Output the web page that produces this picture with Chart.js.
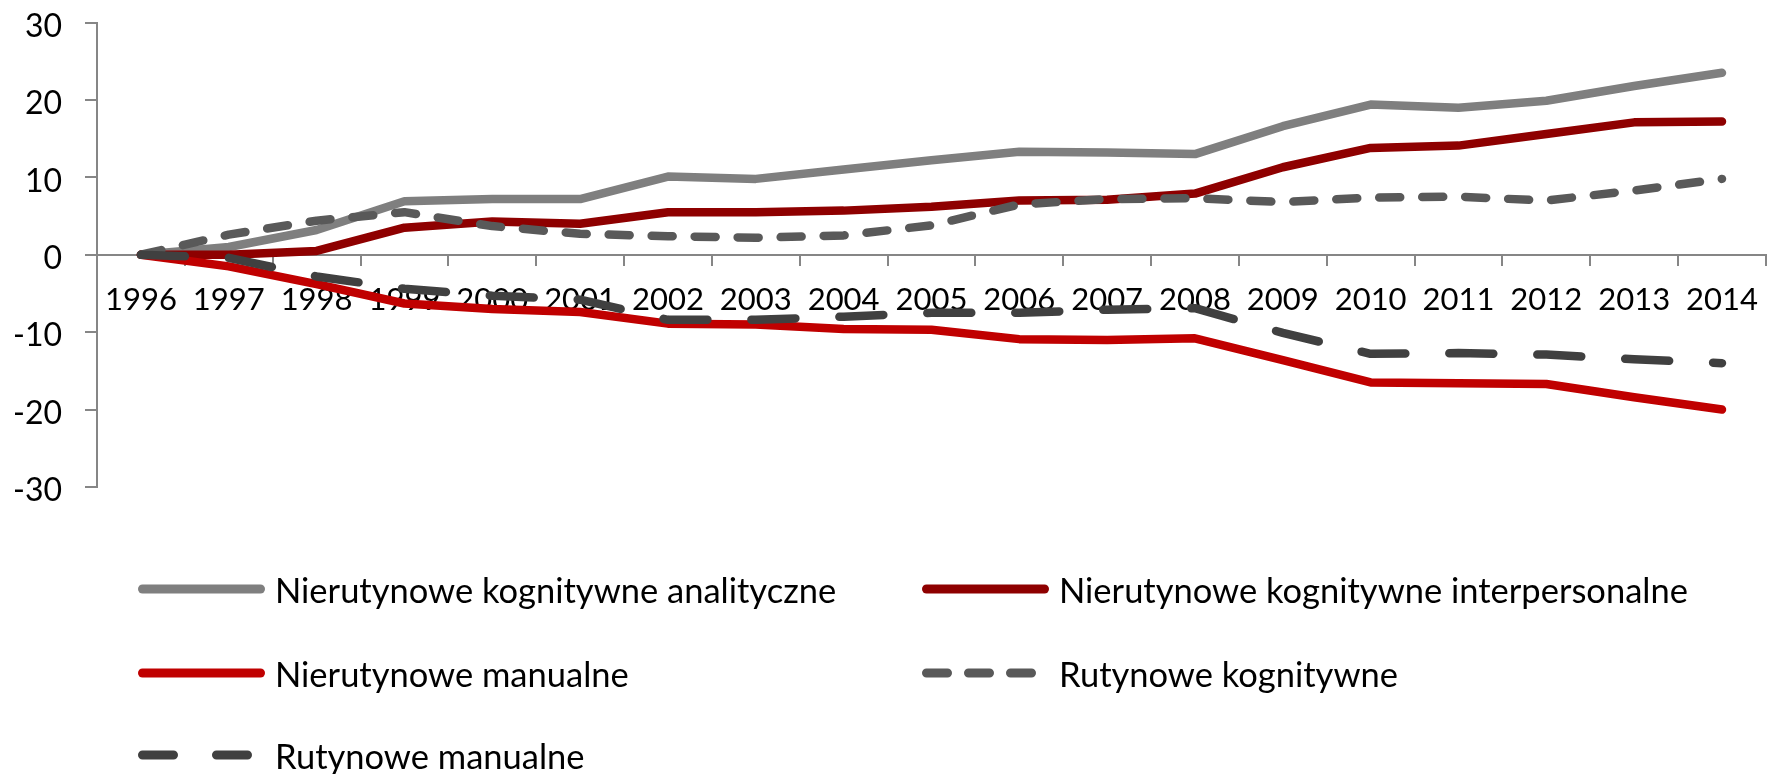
<!DOCTYPE html>
<html lang="pl">
<head>
<meta charset="utf-8">
<script src="https://cdn.jsdelivr.net/npm/chart.js@4.4.1/dist/chart.umd.min.js"></script>
<style>
  html, body { margin: 0; padding: 0; background: #fff; }
  #wrap { width: 1775px; height: 774px; position: relative; }
</style>
</head>
<body>
<div id="wrap"><canvas id="wykres"></canvas></div>
<script>
// dane (zmiana udzialu, pkt)
const lata = ['1996', '1997', '1998', '1999', '2000', '2001', '2002', '2003', '2004', '2005',
              '2006', '2007', '2008', '2009', '2010', '2011', '2012', '2013', '2014'];
const analityczne    = [0, 1.0, 3.2, 6.9, 7.2, 7.2, 10.1, 9.8, 11.0, 12.2, 13.3, 13.2, 13.0, 16.6, 19.4, 19.0, 19.9, 21.8, 23.5];
const interpersonalne = [0, 0, 0.5, 3.5, 4.3, 4.0, 5.5, 5.5, 5.7, 6.2, 7.0, 7.1, 7.9, 11.3, 13.8, 14.1, 15.6, 17.1, 17.2];
const manualneNR     = [0, -1.5, -3.8, -6.3, -7.0, -7.4, -8.9, -9.0, -9.6, -9.7, -10.9, -11.0, -10.8, -13.6, -16.5, -16.6, -16.7, -18.4, -20.0];
const kognitywneR    = [0, 2.6, 4.4, 5.5, 3.7, 2.7, 2.4, 2.2, 2.5, 3.8, 6.5, 7.2, 7.3, 6.8, 7.4, 7.5, 7.0, 8.3, 9.8];
const manualneR      = [0, -0.4, -2.8, -4.4, -5.3, -5.8, -8.4, -8.4, -8.0, -7.5, -7.5, -7.1, -6.9, -10.1, -12.8, -12.7, -12.9, -13.5, -14.0];
const nazwy = ['Nierutynowe kognitywne analityczne', 'Nierutynowe kognitywne interpersonalne',
               'Nierutynowe manualne', 'Rutynowe kognitywne', 'Rutynowe manualne'];
const yTicki = [-30, -20, -10, 0, 10, 20, 30];

const FONT = 'Lato, "Open Sans", sans-serif';
const osie = '#868686';

const seria = (i, dane, kolor, dash, dashLegendy) => ({
    label: nazwy[i],
    data: dane,
    borderColor: kolor,
    backgroundColor: kolor,
    borderWidth: 8.5,
    borderDash: dash,
    legendDash: dashLegendy || dash,
    borderCapStyle: 'round',
    borderJoinStyle: 'round',
    pointRadius: 0,
    tension: 0,
    fill: false,
    order: 5 - i
});

// legenda w dwoch kolumnach, jak w oryginale
const legendaSiatka = {
    id: 'legendaSiatka',
    afterDraw(chart) {
        const ctx = chart.ctx;
        const kolumny = [138, 922];
        const wiersze = [589, 673, 755];
        chart.data.datasets.forEach((ds, i) => {
            const x = kolumny[i % 2];
            const y = wiersze[Math.floor(i / 2)];
            ctx.save();
            ctx.strokeStyle = ds.borderColor;
            ctx.lineWidth = 9;
            ctx.lineCap = 'round';
            ctx.setLineDash(ds.legendDash);
            ctx.beginPath();
            ctx.moveTo(x + 4.5, y);
            ctx.lineTo(x + 122.5, y);
            ctx.stroke();
            ctx.setLineDash([]);
            ctx.fillStyle = '#000';
            ctx.font = '34.5px ' + FONT;
            ctx.textBaseline = 'alphabetic';
            ctx.fillText(ds.label, x + 137, y + 14);
            ctx.restore();
        });
    }
};

new Chart(document.getElementById('wykres'), {
    type: 'line',
    data: {
        labels: lata,
        datasets: [
            seria(0, analityczne, '#7f7f7f', []),
            seria(1, interpersonalne, '#8e0000', []),
            seria(2, manualneNR, '#c00000', []),
            seria(3, kognitywneR, '#595959', [21, 22], [21, 21]),
            seria(4, manualneR, '#404040', [44, 44], [31, 43])
        ]
    },
    options: {
        responsive: true,
        maintainAspectRatio: false,
        animation: false,
        devicePixelRatio: 1,
        layout: { padding: { top: 22.5, right: 2, bottom: 287, left: 0 } },
        plugins: {
            legend: { display: false },
            tooltip: { enabled: false }
        },
        scales: {
            x: {
                position: { y: 0 },
                offset: true,
                grid: {
                    offset: true,
                    drawOnChartArea: false,
                    drawTicks: true,
                    tickLength: 10,
                    color: osie,
                    lineWidth: 2
                },
                border: { display: true, color: osie, width: 2 },
                ticks: {
                    color: '#000',
                    font: { family: FONT, size: 31 },
                    padding: 17,
                    maxRotation: 0,
                    autoSkip: false
                }
            },
            y: {
                min: -30,
                max: 30,
                afterFit(scale) {
                    scale.width = 97;
                    scale.paddingTop = 0;
                    scale.paddingBottom = 0;
                },
                afterBuildTicks(scale) { scale.ticks = yTicki.map(v => ({ value: v })); },
                grid: {
                    drawOnChartArea: false,
                    drawTicks: true,
                    tickLength: 12,
                    color: osie,
                    lineWidth: 2
                },
                border: { display: true, color: osie, width: 2 },
                ticks: {
                    color: '#000',
                    font: { family: FONT, size: 32 },
                    padding: 23,
                    labelOffset: 4
                }
            }
        }
    },
    plugins: [legendaSiatka]
});
</script>
</body>
</html>
